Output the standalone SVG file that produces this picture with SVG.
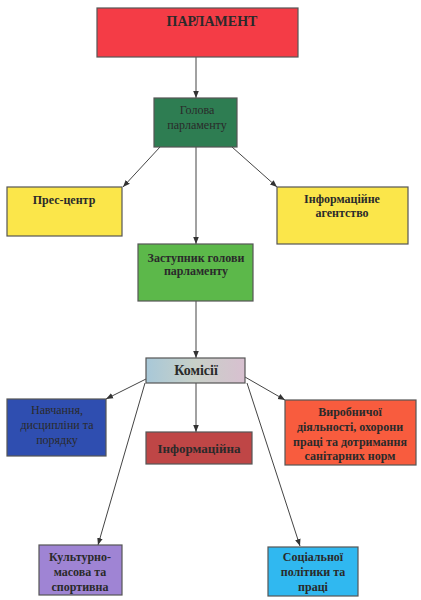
<svg xmlns="http://www.w3.org/2000/svg" width="421" height="600" viewBox="0 0 421 600">
<defs>
<style>
.box{stroke:#555;stroke-width:1.2}
.t{font-family:"Liberation Serif","Times New Roman",serif;font-size:12px;fill:#2a2a2a;text-anchor:middle}
.b{font-weight:bold}
.c{stroke:#444;stroke-width:1;fill:none;marker-end:url(#ah)}
</style>
<marker id="ah" viewBox="0 0 10 10" refX="10" refY="5" markerWidth="7" markerHeight="7" orient="auto">
<path d="M0,1 L10,5 L0,9 Z" fill="#333"/>
</marker>
<linearGradient id="kg" x1="0" y1="0" x2="1" y2="0">
<stop offset="0" stop-color="#a8c8d8"/>
<stop offset="0.5" stop-color="#c8d0c8"/>
<stop offset="1" stop-color="#d8c0d0"/>
</linearGradient>
</defs>
<rect width="421" height="600" fill="#ffffff"/>
<g id="connectors">
<line class="c" x1="196" y1="57" x2="196" y2="98"/>
<line class="c" x1="160" y1="147" x2="123" y2="187"/>
<line class="c" x1="232" y1="147" x2="277" y2="187"/>
<line class="c" x1="196" y1="147" x2="196" y2="244"/>
<line class="c" x1="196" y1="301" x2="196" y2="358"/>
<line class="c" x1="146" y1="379" x2="106" y2="399"/>
<line class="c" x1="196" y1="383" x2="196" y2="432"/>
<line class="c" x1="245" y1="377" x2="285" y2="400"/>
<line class="c" x1="145" y1="383" x2="98" y2="545"/>
<line class="c" x1="247" y1="383" x2="300" y2="546"/>
</g>
<g id="parlament">
<rect class="box" x="97" y="8" width="201" height="49" fill="#f43c46"/>
<text class="t b" x="212" y="26" style="font-size:14px">ПАРЛАМЕНТ</text>
</g>
<g id="holova">
<rect class="box" x="154" y="98" width="83" height="49" fill="#2e7d52"/>
<text class="t" x="197" y="114">Голова</text>
<text class="t" x="197" y="129">парламенту</text>
</g>
<g id="prescentr">
<rect class="box" x="7" y="187" width="115" height="49" fill="#fbe64a"/>
<text class="t b" x="64" y="204">Прес-центр</text>
</g>
<g id="agentstvo">
<rect class="box" x="277" y="187" width="131" height="57" fill="#fbe64a"/>
<text class="t b" x="342" y="203">Інформаційне</text>
<text class="t b" x="342" y="217">агентство</text>
</g>
<g id="zastupnyk">
<rect class="box" x="138" y="244" width="115" height="57" fill="#5cb84a"/>
<text class="t b" x="196" y="262">Заступник голови</text>
<text class="t b" x="196" y="275">парламенту</text>
</g>
<g id="komisii">
<rect class="box" x="146" y="358" width="99" height="25" fill="url(#kg)"/>
<text class="t b" x="196" y="375" style="font-size:14px">Комісії</text>
</g>
<g id="navchannia">
<rect class="box" x="7" y="399" width="99" height="57" fill="#2f4eb0"/>
<text class="t" x="57" y="414">Навчання,</text>
<text class="t" x="57" y="429">дисципліни та</text>
<text class="t" x="57" y="444">порядку</text>
</g>
<g id="informatsiina">
<rect class="box" x="146" y="432" width="106" height="32" fill="#bf4646"/>
<text class="t b" x="199" y="453" style="font-size:13px">Інформаційна</text>
</g>
<g id="vyrobnychoi">
<rect class="box" x="285" y="400" width="131" height="65" fill="#f85c3e"/>
<text class="t b" x="350" y="416">Виробничої</text>
<text class="t b" x="350" y="431">діяльності, охорони</text>
<text class="t b" x="350" y="446">праці та дотримання</text>
<text class="t b" x="350" y="460">санітарних норм</text>
</g>
<g id="kulturno">
<rect class="box" x="39" y="545" width="83" height="50" fill="#9f84d4"/>
<text class="t b" x="80" y="561">Культурно-</text>
<text class="t b" x="80" y="576">масова та</text>
<text class="t b" x="80" y="591">спортивна</text>
</g>
<g id="sotsialnoi">
<rect class="box" x="268" y="547" width="90" height="49" fill="#30b8f0"/>
<text class="t b" x="313" y="561">Соціальної</text>
<text class="t b" x="313" y="576">політики та</text>
<text class="t b" x="313" y="591">праці</text>
</g>
</svg>
